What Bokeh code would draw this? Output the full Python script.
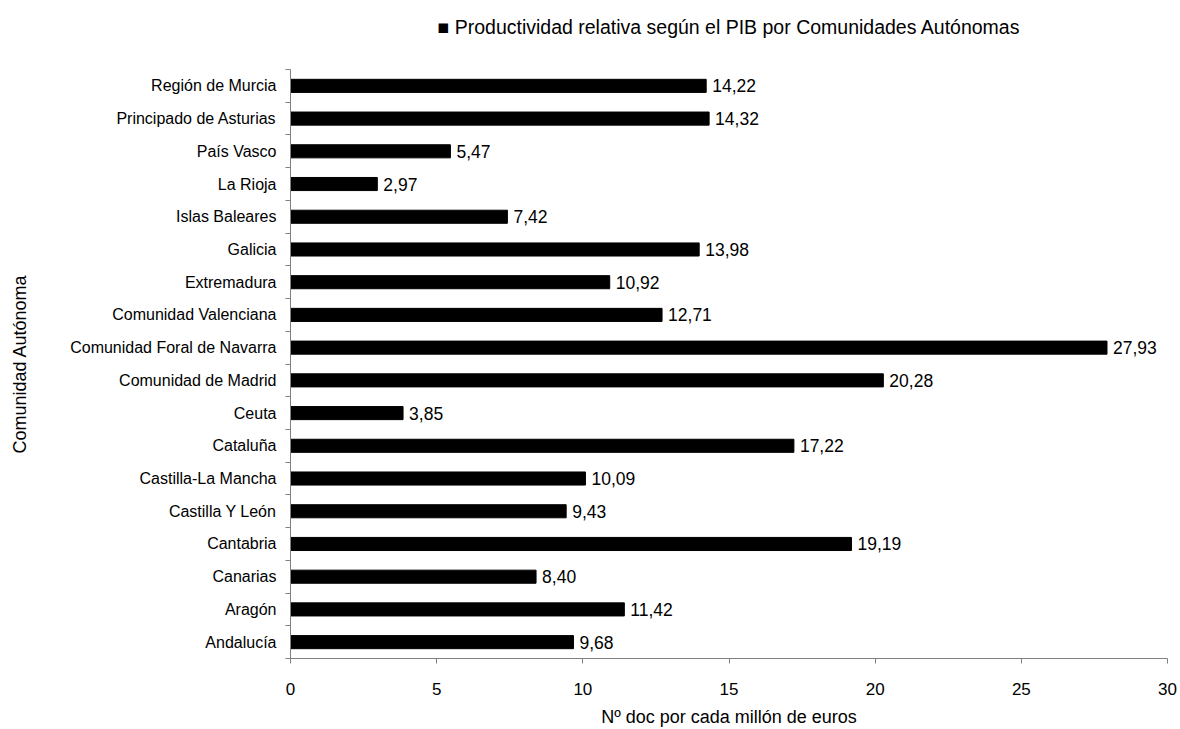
from bokeh.plotting import figure
from bokeh.models import Range1d, FixedTicker, ColumnDataSource
from bokeh.core.properties import value
from bokeh.embed import file_html
from bokeh.resources import INLINE

# ---- data (bottom to top) ----
categories = [
    "Andalucía", "Aragón", "Canarias", "Cantabria", "Castilla Y León",
    "Castilla-La Mancha", "Cataluña", "Ceuta", "Comunidad de Madrid",
    "Comunidad Foral de Navarra", "Comunidad Valenciana", "Extremadura",
    "Galicia", "Islas Baleares", "La Rioja", "País Vasco",
    "Principado de Asturias", "Región de Murcia",
]
values = [9.68, 11.42, 8.40, 19.19, 9.43, 10.09, 17.22, 3.85, 20.28,
          27.93, 12.71, 10.92, 13.98, 7.42, 2.97, 5.47, 14.32, 14.22]
x_ticks = [0, 5, 10, 15, 20, 25, 30]
series_name = "Productividad relativa según el PIB por Comunidades Autónomas"
x_title = "Nº doc por cada millón de euros"
y_title = "Comunidad Autónoma"

FONT = "Liberation Sans"
AXIS_COLOR = "#808080"

positions = list(range(1, len(categories) + 1))
labels = [f"{v:.2f}".replace(".", ",") for v in values]
source = ColumnDataSource(dict(y=positions, x=values, lab=labels))

p = figure(width=1180, height=729, output_backend="svg", toolbar_location=None,
           x_range=Range1d(0, 30), y_range=Range1d(0.5, len(categories) + 0.5),
           min_border_left=290, min_border_right=13, min_border_top=69,
           min_border_bottom=70)
p.outline_line_color = None
p.xgrid.grid_line_color = None
p.ygrid.grid_line_color = None
p.background_fill_color = "white"
p.border_fill_color = "white"

# series key shown above the plot (legend-style: black square + series name);
# the trailing line break leaves the empty gap between the key and the plot
p.title.text = "\u25A0 " + series_name + "\n"
p.title.align = "center"
p.title.vertical_align = "top"
p.title.text_font = FONT
p.title.text_font_size = "19.5px"
p.title.text_font_style = "normal"
p.title.text_color = "black"
p.title.standoff = 16

p.hbar(y="y", right="x", left=0, height=0.4, source=source,
       fill_color="black", line_color="black", legend_label=series_name)
p.legend.visible = False

p.text(x="x", y="y", text="lab", source=source, x_offset=6,
       text_baseline="middle", text_align="left",
       text_font=value(FONT), text_font_size="17.5px", text_color="black")

# x axis
xa = p.xaxis[0]
xa.ticker = FixedTicker(ticks=x_ticks)
xa.axis_line_color = AXIS_COLOR
xa.major_tick_line_color = AXIS_COLOR
xa.major_tick_out = 5
xa.major_tick_in = 0
xa.minor_tick_line_color = None
xa.major_label_text_font = FONT
xa.major_label_text_font_size = "17px"
xa.major_label_text_color = "black"
xa.major_label_standoff = 19
xa.axis_label = x_title
xa.axis_label_text_font = FONT
xa.axis_label_text_font_size = "18px"
xa.axis_label_text_font_style = "normal"
xa.axis_label_text_color = "black"
xa.axis_label_standoff = 9

# y axis: labels at category centres, ticks at category boundaries
ya = p.yaxis[0]
ya.ticker = FixedTicker(ticks=positions,
                        minor_ticks=[pos - 0.5 for pos in positions] + [positions[-1] + 0.5])
ya.major_label_overrides = {pos: cat for pos, cat in zip(positions, categories)}
ya.axis_line_color = AXIS_COLOR
ya.major_tick_line_color = None
ya.major_tick_out = 0
ya.major_tick_in = 0
ya.minor_tick_line_color = AXIS_COLOR
ya.minor_tick_out = 5
ya.minor_tick_in = 0
ya.major_label_text_font = FONT
ya.major_label_text_font_size = "16px"
ya.major_label_text_color = "black"
ya.major_label_standoff = 9
ya.axis_label = y_title
ya.axis_label_text_font = FONT
ya.axis_label_text_font_size = "18px"
ya.axis_label_text_font_style = "normal"
ya.axis_label_text_color = "black"
ya.axis_label_standoff = 37

open("out.html", "w").write(file_html(p, INLINE))
